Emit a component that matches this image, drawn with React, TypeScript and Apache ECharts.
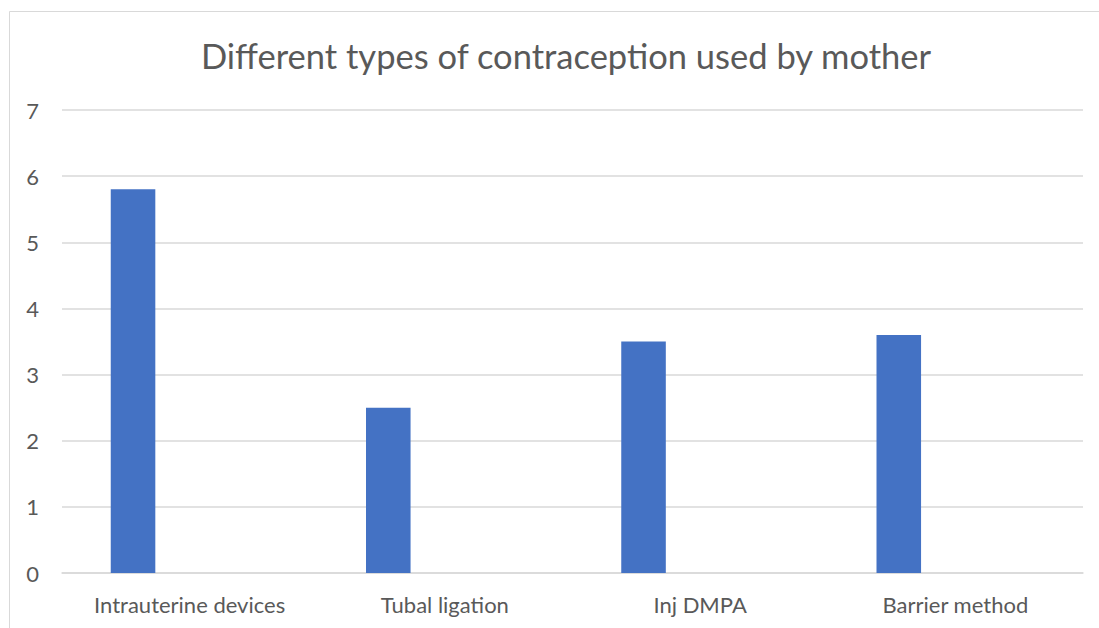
import React, { useEffect, useRef } from "react";
import * as echarts from "echarts";

const categories = ["Intrauterine devices", "Tubal ligation", "Inj DMPA", "Barrier method"];
const series1Values = [5.8, 2.5, 3.5, 3.6];
const series2Values: (number | null)[] = [null, null, null, null];
const series3Values: (number | null)[] = [null, null, null, null];
const titleText = "Different types of contraception used by mother";

const FONT = "Lato, 'Open Sans', sans-serif";

export default function App() {
  const ref = useRef<HTMLDivElement>(null);
  useEffect(() => {
    if (!ref.current) return;
    const chart = echarts.init(ref.current, undefined, { renderer: "svg" });
    chart.setOption({
      animation: false,
      backgroundColor: "#ffffff",
      title: {
        text: titleText,
        left: 561,
        top: 33,
        textAlign: "center",
        textStyle: { fontFamily: FONT, fontSize: 34.5, fontWeight: "normal", color: "#595959" },
      },
      graphic: [
        {
          type: "rect",
          shape: { x: 9.5, y: 11.5, width: 1200, height: 700 },
          style: { fill: "none", stroke: "#d9d9d9", lineWidth: 1 },
          silent: true,
          z: -1,
        },
      ],
      grid: { left: 62, right: 16, top: 110, bottom: 55, containLabel: false },
      xAxis: {
        type: "category",
        data: categories,
        axisLine: { show: true, lineStyle: { color: "#d9d9d9", width: 1.5 } },
        axisTick: { show: false },
        axisLabel: { color: "#595959", fontFamily: FONT, fontSize: 22, margin: 20 },
      },
      yAxis: {
        type: "value",
        min: 0,
        max: 7,
        interval: 1,
        axisLine: { show: false },
        axisTick: { show: false },
        splitLine: { lineStyle: { color: "#d9d9d9", width: 1.5 } },
        axisLabel: { color: "#595959", fontFamily: FONT, fontSize: 22, margin: 23 },
      },
      series: [
        {
          name: "Series1",
          type: "bar",
          data: series1Values,
          barGap: "27%",
          barCategoryGap: "38.2%",
          itemStyle: { color: "#4472c4" },
        },
        {
          name: "Series2",
          type: "bar",
          data: series2Values,
          itemStyle: { color: "#ed7d31" },
        },
        {
          name: "Series3",
          type: "bar",
          data: series3Values,
          itemStyle: { color: "#a5a5a5" },
        },
      ],
    });
    return () => chart.dispose();
  }, []);
  return (
    <div
      ref={ref}
      style={{ position: "fixed", left: 0, top: 0, width: 1099, height: 628, background: "#fff" }}
    />
  );
}
